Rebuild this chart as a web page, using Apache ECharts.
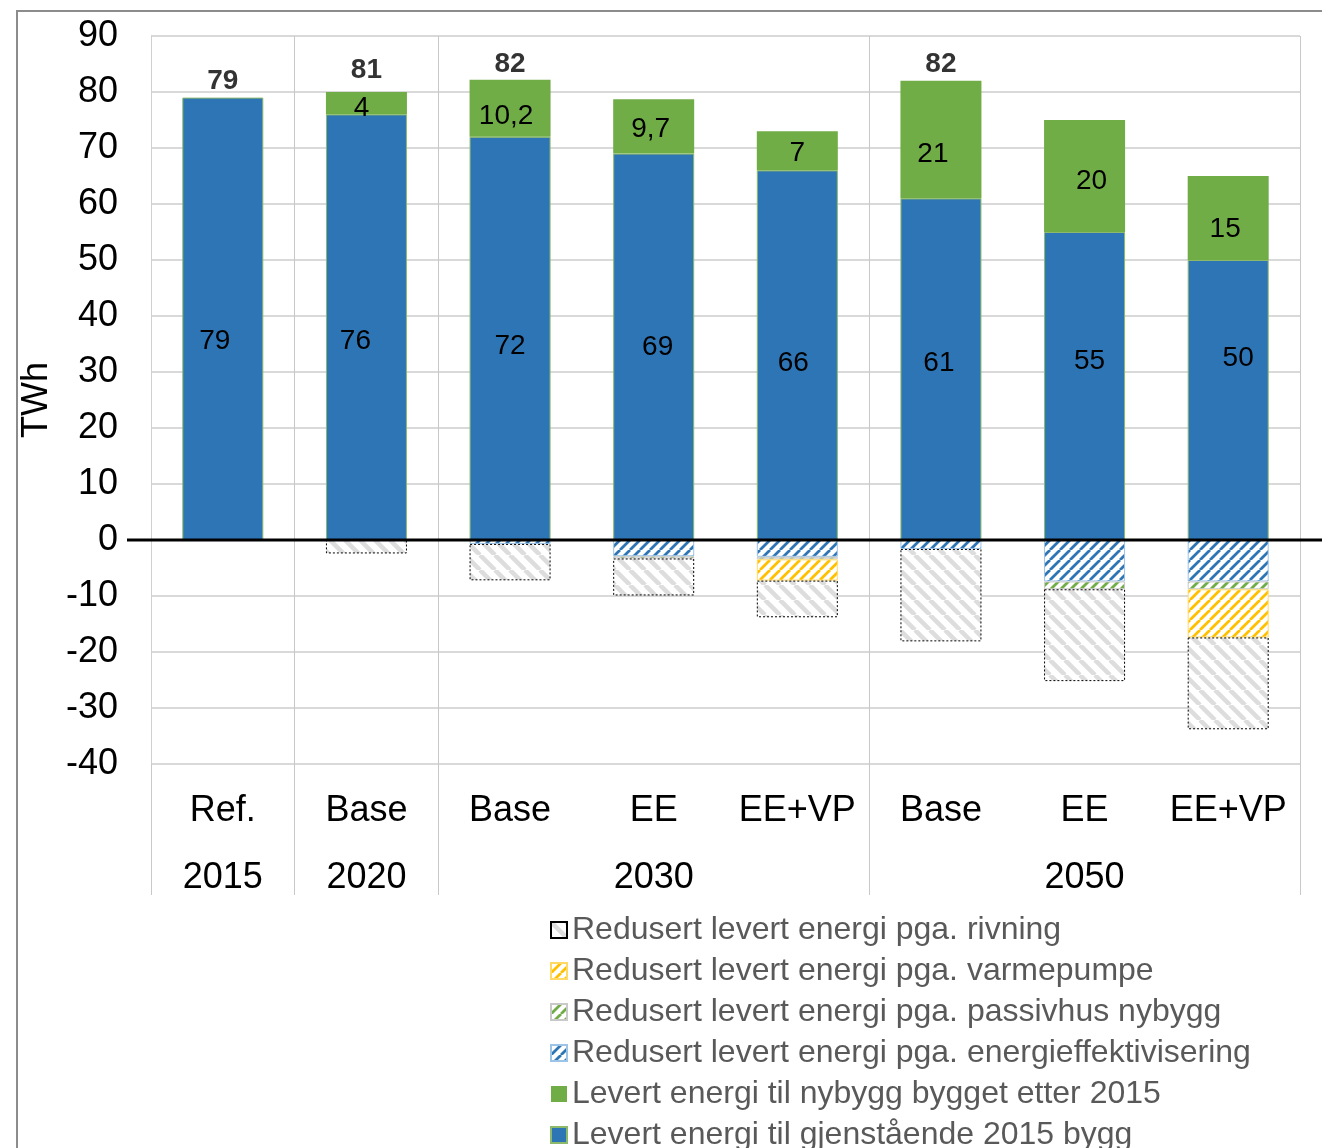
<!DOCTYPE html>
<html>
<head>
<meta charset="utf-8">
<script src="https://cdn.jsdelivr.net/npm/echarts@6/dist/echarts.min.js"></script>
<style>
  html, body { margin: 0; padding: 0; background: #fff; }
  #chart { width: 1322px; height: 1148px; }
</style>
</head>
<body>
<div id="chart"></div>
<script>
// Scenario categories and the year group each belongs to
const scenarios = ['Ref.', 'Base', 'Base', 'EE', 'EE+VP', 'Base', 'EE', 'EE+VP'];
const yearLabels = ['2015', '2020', '', '2030', '', '', '2050', ''];
// Category indices where a year group starts (separator lines)
const groupStarts = [0, 1, 2, 5];

// Delivered energy (TWh)
const remaining2015 = [79, 76, 72, 69, 66, 61, 55, 50];
const newBuildings = [null, 4, 10.2, 9.7, 7, 21, 20, 15];
const totals = [79, 81, 82, null, null, 82, null, null];

// Reductions in delivered energy (TWh, negative)
const redEfficiency = [null, null, -0.7, -2.9, -3.0, -1.6, -7.4, -7.4];
const redPassive = [null, null, null, -0.4, -0.45, null, -1.4, -1.4];
const redHeatPump = [null, null, null, null, -3.8, null, null, -8.6];
const redDemolition = [null, -2.4, -6.5, -6.6, -6.55, -16.5, -16.4, -16.4];

const yTicks = { min: -40, max: 90, interval: 10 };

// Hand-tuned nudges (px) for the value labels inside the bars
const remainingLabelShift = [[-8, 22], [-11, 14], [0, 8], [4, 0], [-4, 8], [-2, -6], [5, -25], [10, -42]];
const newLabelShift = [[0, 0], [-5, 5], [-4, 8], [-3, 3], [0, 2], [-8, 15], [7, 5], [-3, 11]];

const FONT = '"Liberation Sans", Arial, sans-serif';

// Diagonal hatch fills
function hatch(stroke, period, lineW, forward) {
  const c = document.createElement('canvas');
  c.width = period; c.height = period;
  const g = c.getContext('2d');
  g.fillStyle = '#ffffff';
  g.fillRect(0, 0, period, period);
  g.strokeStyle = stroke;
  g.lineWidth = lineW;
  g.beginPath();
  for (const k of [-1, 0, 1]) {
    if (forward) {
      g.moveTo(k * period, period);
      g.lineTo(k * period + period, 0);
    } else {
      g.moveTo(k * period, 0);
      g.lineTo(k * period + period, period);
    }
  }
  g.stroke();
  return { image: c, repeat: 'repeat' };
}

const BLUE = '#2E75B6';
const GREEN = '#70AD47';
const YELLOW = '#FFC000';

const names = {
  remaining: 'Levert energi til gjenstående 2015 bygg',
  newb: 'Levert energi til nybygg bygget etter 2015',
  eff: 'Redusert levert energi pga. energieffektivisering',
  pass: 'Redusert levert energi pga. passivhus nybygg',
  hp: 'Redusert levert energi pga. varmepumpe',
  demo: 'Redusert levert energi pga. rivning'
};

const fmtComma = p => String(p.value).replace('.', ',');

function withLabelShift(values, shifts) {
  return values.map((v, i) => v == null ? null : { value: v, label: { offset: shifts[i] } });
}

const chart = echarts.init(document.getElementById('chart'), null, { renderer: 'canvas' });

const barW = 81;

chart.setOption({
  animation: false,
  textStyle: { fontFamily: FONT },
  grid: { left: 151, right: 22, top: 36, bottom: 384, containLabel: false },
  legend: {
    orient: 'vertical',
    left: 545,
    top: 909,
    height: 300,
    itemWidth: 16,
    itemHeight: 16,
    itemGap: 9,
    icon: 'rect',
    textStyle: { fontSize: 32, color: '#595959', fontFamily: FONT },
    data: [names.demo, names.hp, names.pass, names.eff, names.newb, names.remaining]
  },
  xAxis: [
    {
      type: 'category',
      data: scenarios,
      position: 'bottom',
      axisLine: { show: false, onZero: false },
      axisTick: { show: false },
      axisLabel: { interval: 0, fontSize: 36, color: '#000', margin: 29, fontFamily: FONT },
      splitLine: {
        show: true,
        interval: (i) => groupStarts.indexOf(i) >= 0,
        lineStyle: { color: '#C8C8C8', width: 1 }
      }
    },
    {
      type: 'category',
      data: scenarios,
      position: 'bottom',
      axisLine: { show: false, onZero: false },
      axisTick: {
        show: true,
        length: 131,
        interval: (i) => groupStarts.indexOf(i) >= 0,
        lineStyle: { color: '#C8C8C8', width: 1 }
      },
      axisLabel: {
        interval: 0,
        fontSize: 36,
        color: '#000',
        margin: 96,
        fontFamily: FONT,
        formatter: (v, i) => yearLabels[i]
      },
      splitLine: { show: false }
    }
  ],
  yAxis: {
    type: 'value',
    min: yTicks.min,
    max: yTicks.max,
    interval: yTicks.interval,
    name: 'TWh',
    nameLocation: 'middle',
    nameGap: 81,
    nameTextStyle: { fontSize: 36, color: '#000', fontFamily: FONT },
    axisLine: { show: true, lineStyle: { color: '#D0D0D0', width: 1 } },
    axisTick: { show: false },
    axisLabel: { fontSize: 36, color: '#000', margin: 33, fontFamily: FONT },
    splitLine: { show: true, lineStyle: { color: '#D9D9D9', width: 2 } }
  },
  series: [
    {
      name: names.remaining,
      type: 'bar',
      stack: 'energy',
      barWidth: barW,
      data: withLabelShift(remaining2015, remainingLabelShift),
      itemStyle: { color: BLUE, borderColor: '#8DB96A', borderWidth: 1 },
      label: { show: true, position: 'inside', fontSize: 28, color: '#000', fontFamily: FONT }
    },
    {
      name: names.newb,
      type: 'bar',
      stack: 'energy',
      barWidth: barW,
      data: withLabelShift(newBuildings, newLabelShift),
      itemStyle: { color: GREEN },
      label: { show: true, position: 'inside', fontSize: 28, color: '#000', fontFamily: FONT, formatter: fmtComma }
    },
    {
      name: names.eff,
      type: 'bar',
      stack: 'energy',
      barWidth: barW,
      data: redEfficiency,
      itemStyle: { color: hatch(BLUE, 10, 2.8, true), borderColor: '#9DC3E6', borderWidth: 1 }
    },
    {
      name: names.pass,
      type: 'bar',
      stack: 'energy',
      barWidth: barW,
      data: redPassive,
      itemStyle: { color: hatch(GREEN, 10, 2.8, true), borderColor: '#C9C9C9', borderWidth: 1 }
    },
    {
      name: names.hp,
      type: 'bar',
      stack: 'energy',
      barWidth: barW,
      data: redHeatPump,
      itemStyle: { color: hatch(YELLOW, 10, 2.8, true), borderColor: '#FFD966', borderWidth: 1 }
    },
    {
      name: names.demo,
      type: 'bar',
      stack: 'energy',
      barWidth: barW,
      data: redDemolition,
      itemStyle: { color: hatch('#DDDDDD', 15, 4.5, false), borderColor: '#000', borderWidth: 1, borderType: [2, 2] }
    },
    {
      name: 'Sum',
      type: 'scatter',
      data: totals,
      symbol: 'rect',
      symbolSize: 1,
      itemStyle: { color: 'rgba(0,0,0,0)' },
      silent: true,
      z: 10,
      label: {
        show: true,
        position: 'top',
        distance: 2,
        fontSize: 28,
        fontWeight: 'bold',
        color: '#000',
        fontFamily: FONT
      }
    }
  ]
});

// Zero baseline and outer frame
const y0 = chart.convertToPixel({ yAxisIndex: 0 }, 0);
chart.setOption({
  graphic: [
    {
      type: 'line',
      z: 100,
      silent: true,
      shape: { x1: 127, y1: y0, x2: 1322, y2: y0 },
      style: { stroke: '#000', lineWidth: 3 }
    },
    {
      type: 'rect',
      z: 100,
      silent: true,
      shape: { x: 17, y: 11, width: 1400, height: 1300 },
      style: { fill: 'none', stroke: '#8C8C8C', lineWidth: 2 }
    }
  ]
});
</script>
</body>
</html>
